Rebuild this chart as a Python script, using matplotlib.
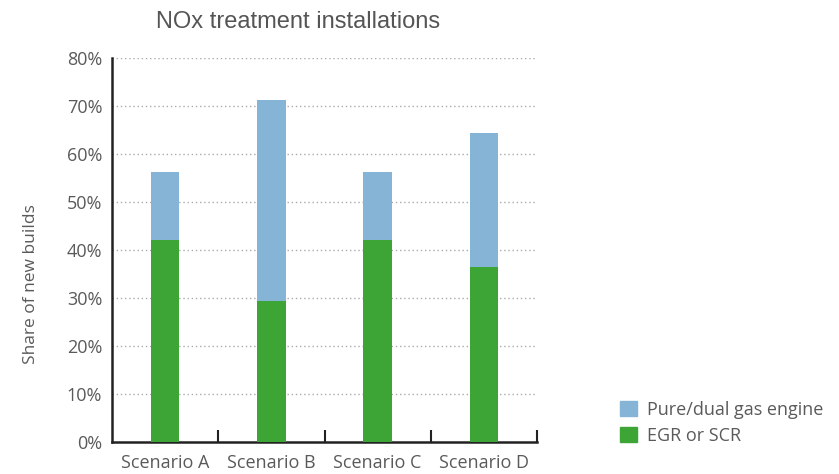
import matplotlib
matplotlib.use("Agg")
import matplotlib.pyplot as plt
from matplotlib.patches import Patch

categories = ["Scenario A", "Scenario B", "Scenario C", "Scenario D"]
egr_scr = [42.1, 29.4, 42.1, 36.5]
pure_dual = [14.2, 41.9, 14.2, 27.9]
yticks = [0, 10, 20, 30, 40, 50, 60, 70, 80]

blue = "#85b4d6"
green = "#3da535"
txt = "#5a5a5a"
fam = "Open Sans"

fig = plt.figure(figsize=(8.39, 4.74), dpi=100)
ax = fig.add_axes([112/839, 1-442/474, (537-112)/839, (442-58)/474])

x = list(range(len(categories)))
ax.bar(x, egr_scr, width=0.27, color=green, zorder=3, label="EGR or SCR")
ax.bar(x, pure_dual, width=0.27, bottom=egr_scr, color=blue, zorder=3, label="Pure/dual gas engine")

ax.set_xlim(-0.5, 3.5)
ax.set_ylim(0, 80)
ax.set_yticks(yticks)
ax.set_yticklabels([f"{v}%" for v in yticks], fontsize=13, color=txt, family=fam)
ax.tick_params(axis="y", length=0, pad=7)
ax.set_xticks([0.5, 1.5, 2.5, 3.5])
ax.set_xticklabels([])
ax.tick_params(axis="x", which="major", direction="in", length=9, width=1.5, color="#222222")
ax.set_xticks(x, minor=True)
ax.set_xticklabels(categories, minor=True, fontsize=13, color=txt, family=fam)
ax.tick_params(axis="x", which="minor", length=0, pad=9)

for s in ["top", "right"]:
    ax.spines[s].set_visible(False)
for s in ["left", "bottom"]:
    ax.spines[s].set_linewidth(1.8)
    ax.spines[s].set_color("#222222")

for v in yticks[1:]:
    ax.axhline(v, color="#aaaaaa", linestyle=(0, (1, 2)), linewidth=1, zorder=1)

fig.text(31/839, 1-284/474, "Share of new builds", fontsize=12.5, color=txt, family=fam,
         rotation=90, ha="center", va="center")
fig.text(298/839, 1-22/474, "NOx treatment installations", fontsize=17, color="#555555",
         family="Liberation Sans", ha="center", va="center")

handles = [Patch(color=blue), Patch(color=green)]
fig.legend(handles, ["Pure/dual gas engine", "EGR or SCR"], loc="center left",
           bbox_to_anchor=(604/839, 1-423/474), frameon=False,
           handlelength=0.9, handleheight=0.9, handletextpad=0.6, labelspacing=0.45,
           prop={"family": fam, "size": 13}, labelcolor=txt)

fig.savefig("out.png", dpi=100)
